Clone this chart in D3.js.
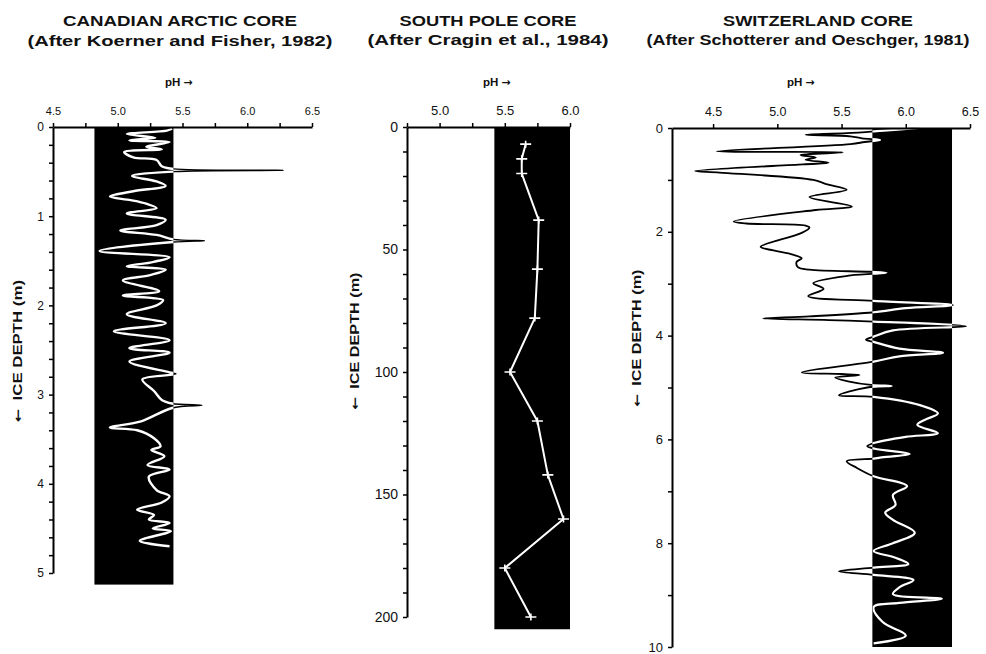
<!DOCTYPE html>
<html><head><meta charset="utf-8">
<script src="https://cdn.jsdelivr.net/npm/d3@7"></script>
<style>
body{margin:0;background:#fff}
svg{display:block}
text{font-family:"Liberation Sans",Arial,Helvetica,sans-serif;fill:#111}
</style>
</head><body>
<svg id="chart" width="986" height="654"></svg>
<script>
// ---------------- DATA ----------------
const titles = [
  ["CANADIAN ARCTIC CORE", "(After Koerner and Fisher, 1982)"],
  ["SOUTH POLE CORE", "(After Cragin et al., 1984)"],
  ["SWITZERLAND CORE", "(After Schotterer and Oeschger, 1981)"]
];
const xAxisTitle = ["pH", "\u2192"];
const yAxisTitle = ["\u2190", "ICE DEPTH (m)"];

// Canadian Arctic core: depth (m) and pH
const canadaDepth = [0.02,0.04,0.08,0.12,0.15,0.17,0.22,0.25,0.28,0.34,0.37,0.44,0.47,0.485,0.50,0.55,0.61,0.66,0.72,0.78,
  0.82,0.86,0.91,0.97,1.04,1.10,1.16,1.21,1.26,1.275,1.29,1.39,1.46,1.52,1.56,1.60,1.66,1.72,1.84,1.89,
  1.94,2.00,2.10,2.20,2.29,2.39,2.48,2.53,2.63,2.75,2.77,2.83,2.96,3.06,3.10,3.12,3.15,3.30,3.37,3.40,
  3.49,3.58,3.62,3.69,3.79,3.84,3.92,4.07,4.14,4.21,4.29,4.35,4.40,4.44,4.50,4.53,4.64,4.70];
const canadaPH = [5.42,5.38,5.07,5.29,5.09,5.40,5.22,5.34,5.05,5.12,5.30,5.34,5.43,6.28,5.43,5.11,5.30,5.37,5.12,4.94,
  5.10,5.22,5.30,5.07,5.37,5.30,5.02,5.30,5.43,5.67,5.43,4.86,5.40,5.25,5.07,5.37,5.25,5.04,5.32,5.04,
  5.35,5.30,5.07,5.37,4.97,5.40,5.09,5.40,5.09,5.40,5.45,5.19,5.28,5.34,5.42,5.65,5.42,5.18,4.94,5.15,
  5.28,5.33,5.26,5.36,5.23,5.40,5.24,5.30,5.40,5.34,5.15,5.28,5.24,5.40,5.27,5.41,5.17,5.40];
const canadaBand = [4.82, 5.43, 5.13];   // pH from, pH to, bottom depth

// South Pole core
const southDepth = [7,13,19,38,58,78,100,120,142,160,180,200];
const southPH    = [5.66,5.63,5.63,5.76,5.75,5.73,5.54,5.75,5.83,5.95,5.50,5.70];
const southBand = [5.42, 6.0, 205];

// Switzerland core
const swissDepth = [0.00,0.05,0.10,0.13,0.16,0.20,0.23,0.27,0.31,0.45,0.47,0.52,0.57,0.61,0.67,0.70,0.83,0.86,1.00,1.08,
  1.19,1.33,1.51,1.58,1.80,1.84,1.88,1.92,2.02,2.29,2.36,2.44,2.51,2.58,2.68,2.73,2.77,2.79,2.84,2.99,
  3.10,3.24,3.33,3.41,3.47,3.55,3.63,3.67,3.70,3.73,3.82,3.90,4.02,4.08,4.12,4.25,4.33,4.40,4.50,4.71,
  4.74,4.76,4.81,4.88,4.95,4.97,5.00,5.15,5.18,5.34,5.50,5.62,5.72,5.88,5.95,6.07,6.13,6.18,6.28,6.35,
  6.37,6.42,6.55,6.71,6.90,7.07,7.26,7.41,7.55,7.80,8.00,8.15,8.28,8.40,8.47,8.54,8.61,8.71,8.85,8.98,
  9.07,9.15,9.23,9.52,9.78,9.93];
const swissPH = [6.10,5.83,5.54,5.22,5.57,5.66,5.80,5.68,5.57,4.53,5.51,5.18,5.30,5.22,5.40,5.20,4.36,4.55,5.28,5.38,
  5.54,5.25,5.58,5.30,4.66,4.76,5.22,5.25,5.19,4.87,4.97,5.12,5.19,5.15,5.16,5.25,5.72,5.85,5.57,5.28,
  5.36,5.24,5.75,6.37,6.00,5.75,5.25,4.89,5.40,5.75,6.47,5.90,5.75,5.69,5.75,5.95,6.29,5.95,5.75,5.19,
  5.50,5.64,5.45,5.55,5.73,5.89,5.70,5.48,5.75,6.11,6.25,6.15,6.09,6.25,6.00,5.75,5.70,5.76,6.03,5.80,
  5.75,5.54,5.62,5.75,6.01,5.90,5.92,5.84,5.90,6.07,5.90,5.75,5.92,6.02,5.75,5.48,5.75,6.06,5.95,5.90,
  6.28,5.95,5.75,5.82,6.00,5.75];
const swissBand = [5.74, 6.36, 10];

// Tick labels
const canadaXLabels = [4.5, 5.0, 5.5, 6.0, 6.5];
const canadaYLabels = [0, 1, 2, 3, 4, 5];
const southXLabels  = [5.0, 5.5, 6.0];
const southYLabels  = [0, 50, 100, 150, 200];
const swissXLabels  = [4.5, 5.0, 5.5, 6.0, 6.5];
const swissYLabels  = [0, 2, 4, 6, 8, 10];

// ---------------- DRAW ----------------
const svg = d3.select("#chart");
const fmt1 = d3.format(".1f");
const arrowFont = '"DejaVu Sans",sans-serif';

function drawPanel(o, idx){
  const g = svg.append("g");
  const x = d3.scaleLinear().domain(o.xDomain).range(o.xRange);
  const y = d3.scaleLinear().domain(o.yDomain).range(o.yRange);

  // titles
  o.titlePos.forEach((p, i) => {
    g.append("text").attr("x", p[0]).attr("y", p[1]).attr("text-anchor","middle")
      .attr("font-weight","bold").attr("font-size", 14.5).attr("fill","#000")
      .attr("textLength", p[2]).attr("lengthAdjust","spacingAndGlyphs")
      .text(titles[idx][i]);
  });
  // pH label
  const ph = g.append("text").attr("x", o.phPos[0]).attr("y", o.phPos[1]).attr("font-weight","bold")
    .attr("font-size", 11.5).attr("fill","#000");
  ph.append("tspan").text(xAxisTitle[0]);
  ph.append("tspan").attr("dx", 3).attr("font-family", arrowFont).attr("font-size", 11).text(xAxisTitle[1]);

  // depth label
  const dl = g.append("text").attr("transform", `translate(${o.depthPos[0]},${o.depthPos[1]}) rotate(-90)`)
    .attr("text-anchor","middle").attr("dominant-baseline","central")
    .attr("font-weight","bold").attr("font-size", 12.5).attr("fill","#000")
    .attr("textLength", o.depthPos[2]).attr("lengthAdjust","spacingAndGlyphs");
  dl.append("tspan").attr("font-family", arrowFont).attr("font-size", 12).text(yAxisTitle[0]);
  dl.append("tspan").attr("dx", 6).text(yAxisTitle[1]);

  // band
  const bx0 = x(o.band[0]), bx1 = x(o.band[1]), by0 = y(0), by1 = y(o.band[2]);
  g.append("rect").attr("x", bx0).attr("y", by0).attr("width", bx1 - bx0).attr("height", by1 - by0).attr("fill", "#000");
  const clipId = "clip" + idx;
  svg.append("clipPath").attr("id", clipId).append("rect")
    .attr("x", bx0).attr("y", by0 - 5).attr("width", bx1 - bx0).attr("height", by1 - by0 + 10);

  const pts = o.depth.map((d, i) => [x(o.ph[i]), y(d)]);
  const line = d3.line().curve(o.curve);
  g.append("path").attr("d", line(pts)).attr("fill","none").attr("stroke","#000")
    .attr("stroke-width", o.blackW).attr("stroke-linejoin","round");
  g.append("path").attr("d", line(pts)).attr("fill","none").attr("stroke","#fff")
    .attr("stroke-width", o.whiteW).attr("stroke-linejoin","round").attr("clip-path", `url(#${clipId})`);

  if (o.markers) {
    g.append("g").selectAll("path").data(pts).join("path")
      .attr("d", p => `M${p[0]-5.5},${p[1]}H${p[0]+5.5}M${p[0]},${p[1]-3.5}V${p[1]+3.5}`)
      .attr("stroke","#fff").attr("stroke-width",1.6);
  }

  // axes
  const isMajor = (v, arr) => arr.some(a => Math.abs(a - v) < 1e-6);
  const xAx = d3.axisTop(x).tickValues(o.xTicks)
    .tickFormat(v => isMajor(v, o.xLabels) ? fmt1(v) : "")
    .tickSize(4).tickSizeOuter(0).tickPadding(o.xPad);
  const gx = g.append("g").attr("transform", `translate(0,${y(0)})`).call(xAx);
  gx.selectAll("text").attr("font-size", o.xFont).attr("font-family", '"Liberation Sans",Arial,sans-serif').attr("fill","#000");

  const yAx = d3.axisLeft(y).tickValues(o.yTicks)
    .tickFormat(v => isMajor(v, o.yLabels) ? String(v) : "")
    .tickSize(4).tickSizeOuter(0).tickPadding(o.yPad);
  const gy = g.append("g").attr("transform", `translate(${x(o.xDomain[0])},0)`).call(yAx);
  gy.selectAll("text").attr("font-size", o.yFont).attr("font-family", '"Liberation Sans",Arial,sans-serif').attr("fill","#000");

  [gx, gy].forEach(a => {
    a.select(".domain").attr("stroke","#000").attr("stroke-width", 2);
    a.selectAll(".tick line").attr("stroke","#000").attr("stroke-width", 1.5);
  });
}

drawPanel({
  xDomain: [4.5, 6.5], xRange: [53, 312],
  yDomain: [0, 5], yRange: [127, 573],
  xTicks: d3.range(4.5, 6.51, 0.25), xLabels: canadaXLabels,
  yTicks: d3.range(0, 5.01, 0.2).map(v => +v.toFixed(2)), yLabels: canadaYLabels,
  xFont: 11, yFont: 12, xPad: 8, yPad: 5,
  depth: canadaDepth, ph: canadaPH, band: canadaBand,
  curve: d3.curveCatmullRom.alpha(0.5), blackW: 1.4, whiteW: 2.4,
  titlePos: [[180, 26, 234], [180, 46, 305]],
  phPos: [165, 86], depthPos: [18, 351, 142]
}, 0);

drawPanel({
  xDomain: [4.75, 6.0], xRange: [407, 570],
  yDomain: [0, 200], yRange: [127, 617],
  xTicks: d3.range(4.75, 6.01, 0.25), xLabels: southXLabels,
  yTicks: d3.range(0, 201, 10), yLabels: southYLabels,
  xFont: 13, yFont: 14, xPad: 8, yPad: 5,
  depth: southDepth, ph: southPH, band: southBand,
  curve: d3.curveLinear, blackW: 2, whiteW: 2, markers: true,
  titlePos: [[488, 26, 177], [488, 45, 241]],
  phPos: [483, 86], depthPos: [355, 341, 137]
}, 1);

drawPanel({
  xDomain: [4.18, 6.5], xRange: [672, 970],
  yDomain: [0, 10], yRange: [128, 647],
  xTicks: d3.range(4.5, 6.51, 0.5), xLabels: swissXLabels,
  yTicks: d3.range(0, 10.01, 1), yLabels: swissYLabels,
  xFont: 12.5, yFont: 13, xPad: 8, yPad: 5,
  depth: swissDepth, ph: swissPH, band: swissBand,
  curve: d3.curveCatmullRom.alpha(0.5), blackW: 1.8, whiteW: 2.2,
  titlePos: [[818, 26, 190], [808, 45, 323]],
  phPos: [787, 86], depthPos: [637, 338, 137]
}, 2);
</script>
</body></html>
